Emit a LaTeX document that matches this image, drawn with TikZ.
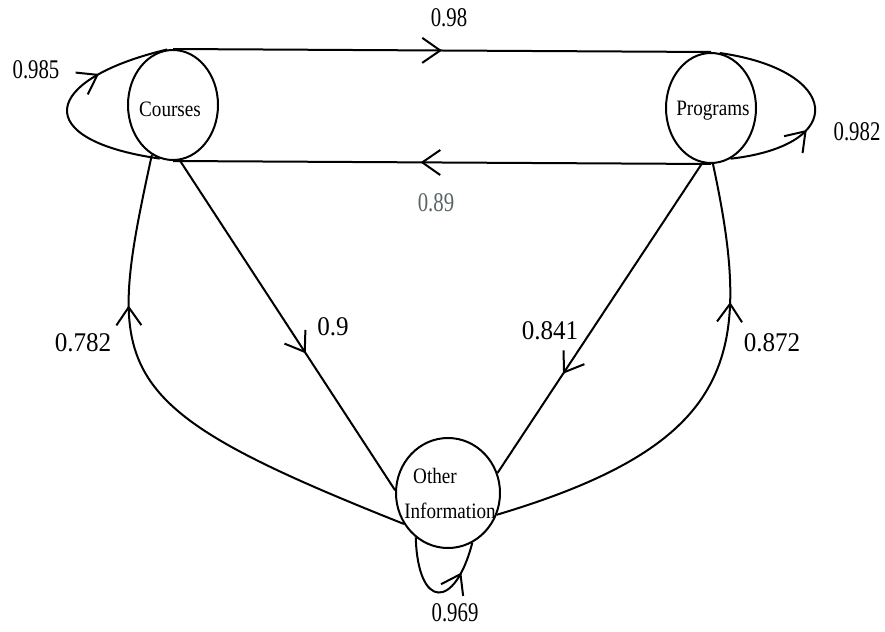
\documentclass[tikz,border=0pt]{standalone}
\usepackage{fontspec}
\setmainfont{Liberation Serif}
\newfontfamily\nodefont[FakeStretch=0.87]{Liberation Serif}
\newfontfamily\narrowfont[FakeStretch=0.77]{Liberation Serif}
\newfontfamily\midfont[FakeStretch=0.93]{Liberation Serif}
\usetikzlibrary{shapes.geometric,arrows.meta,decorations.markings}
\definecolor{lblgray}{RGB}{90,100,100}
\tikzset{
  st/.style={draw, ellipse, line width=2pt, inner sep=0pt, minimum width=90pt, minimum height=110pt},
  sttext/.style={font=\nodefont\fontsize{22}{35}\selectfont, align=center, inner sep=0pt},
  edge/.style={line width=2pt},
  midarrow/.style={postaction={decorate}, decoration={markings, mark=at position #1 with {\arrow{Straight Barb[length=18pt,width=25pt]}}}},
  lblN/.style={font=\narrowfont\fontsize{27}{27}\selectfont, inner sep=0pt},
  lblM/.style={font=\midfont\fontsize{27}{27}\selectfont, inner sep=0pt}
}
\begin{document}
\begin{tikzpicture}[x=1pt, y=-1pt]
\useasboundingbox (0,0) rectangle (885,631);
% states
\node[st] (C) at (173,105) {};
\node[sttext] (Ct) at (170,109) {Courses};
\node[st] (P) at (711,108) {};
\node[sttext] (Pt) at (713,111) {Programs};
\node[st, minimum width=104pt] (O) at (448,493) {};
\node[sttext] (Ot) at (450,493) {Other\hspace*{30pt}\\Information};
% top / bottom
\draw[edge, midarrow=0.5] (C.north) -- (P.north);
\draw[edge, midarrow=0.54] (P.south) -- (C.south);
% self loops
\draw[edge, midarrow=0.69] (C.256) .. controls (30,140) and (40,80) .. (C.96);
\draw[edge, midarrow=0.37] (P.291) .. controls (850,145) and (840,70) .. (P.81);
\draw[edge, midarrow=0.75] (O.234) .. controls (418,610) and (455,610) .. (O.296);
% diagonals
\draw[edge, midarrow=0.585] (C.277) -- (O.177);
\draw[edge, midarrow=0.68] (P.261) -- (O.22);
% outer curves
\draw[edge, midarrow=0.71] (O.215) .. controls (105,405) and (104,375) .. (C.247);
\draw[edge, midarrow=0.71] (O.336) .. controls (737,443) and (754,355) .. (P.272);
% labels
\node[lblN] (l1) at (449,18) {0.98};
\node[lblN, text=lblgray] (l2) at (436,203) {0.89};
\node[lblN] (l3) at (36,70) {0.985};
\node[lblN] (l4) at (857,132) {0.982};
\node[lblN] (l5) at (455,613) {0.969};
\node[lblM] (l6) at (333,327) {0.9};
\node[lblM] (l7) at (83,343) {0.782};
\node[lblM] (l8) at (550,331) {0.841};
\node[lblM] (l9) at (772,343) {0.872};
\end{tikzpicture}
\end{document}
